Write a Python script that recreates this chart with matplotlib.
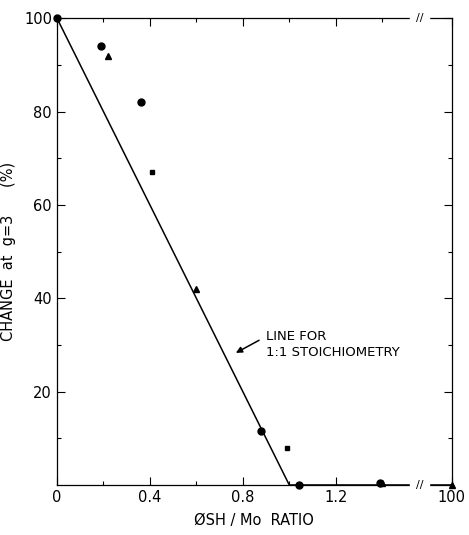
import numpy as np
import matplotlib.pyplot as plt

# data
circ_x = [0.0, 0.19, 0.36, 0.88, 1.04, 1.39]
circ_y = [100, 94, 82, 11.5, 0, 0.5]
tri_x = [0.22, 0.60, 1.40, 100]
tri_y = [92, 42, 0.5, 0]
sq_x = [0.41, 0.99]
sq_y = [67, 8]
line_x = [0.0, 1.0, 100]
line_y = [100, 0, 0]

xtick_vals = [0, 0.4, 0.8, 1.2, 100]
xtick_labels = ['0', '0.4', '0.8', '1.2', '100']
ytick_vals = [20, 40, 60, 80, 100]
ytick_labels = ['20', '40', '60', '80', '100']

# broken x axis: linear up to 1.6, then squeeze up to 100
BRK = 1.6
SQ = 0.10 / (100 - BRK)


def fwd(x):
    x = np.asarray(x, dtype=float)
    return np.where(x <= BRK, x, BRK + (x - BRK) * SQ)


def inv(x):
    x = np.asarray(x, dtype=float)
    return np.where(x <= BRK, x, BRK + (x - BRK) / SQ)


plt.rcParams['font.family'] = ['DejaVu Sans']
fig = plt.figure(figsize=(4.69, 5.35), dpi=100)
ax = fig.add_axes([0.1215, 0.0935, 0.842, 0.8725])
ax.set_xscale('function', functions=(fwd, inv))

ax.plot(line_x, line_y, color='black', lw=1.1, clip_on=False)
ax.plot(circ_x, circ_y, 'o', color='black', ms=5, clip_on=False, zorder=5)
ax.plot(tri_x, tri_y, '^', color='black', ms=4, clip_on=False, zorder=5)
ax.plot(sq_x, sq_y, 's', color='black', ms=2.5, clip_on=False, zorder=5)

ax.set_xlim(0, 100)
ax.set_ylim(0, 100)

ax.set_xticks(xtick_vals)
ax.set_xticklabels(xtick_labels)
ax.set_xticks([0.2, 0.6, 1.0, 1.4], minor=True)
ax.set_yticks(ytick_vals)
ax.set_yticklabels(ytick_labels)
ax.set_yticks([10, 30, 50, 70, 90], minor=True)
ax.tick_params(which='both', direction='in', top=True, right=True,
               labelsize=10.5, width=0.8, colors='black')
ax.tick_params(which='major', length=6)
ax.tick_params(which='minor', length=3)
for s in ax.spines.values():
    s.set_linewidth(0.9)

# axis break marks
for yb in (0, 100):
    ax.text(1.56, yb, '//', ha='center', va='center', fontsize=8,
            backgroundcolor='white', clip_on=False)

ax.set_xlabel('ØSH / Mo  RATIO', fontsize=10.5, labelpad=6)
ax.set_ylabel('CHANGE  at  g=3      (%)', fontsize=10.5, labelpad=6)

ax.text(0.9, 30, 'LINE FOR\n1:1 STOICHIOMETRY', fontsize=9.5,
        va='center', ha='left', linespacing=1.3)
ax.annotate('', xy=(0.77, 28.3), xytext=(0.87, 31),
            arrowprops=dict(arrowstyle='-|>', color='black', lw=1.1,
                            shrinkA=0, shrinkB=0, mutation_scale=9))

fig.savefig('out.png', dpi=100)
